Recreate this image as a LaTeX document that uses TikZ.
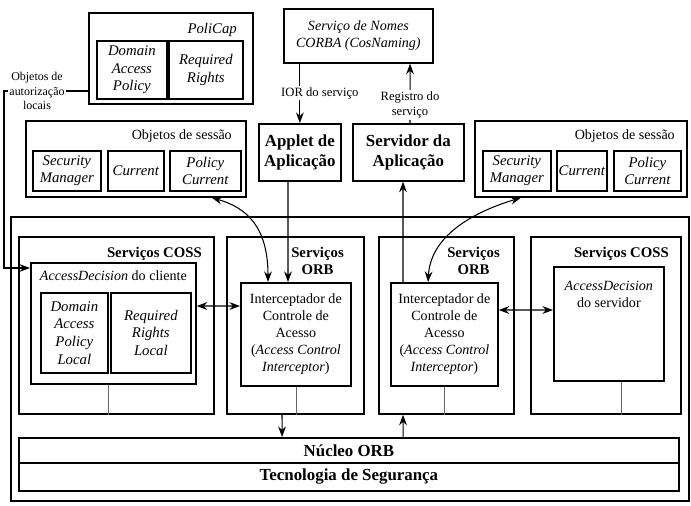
\documentclass[tikz,border=0pt]{standalone}
\usepackage{fontspec}
\setmainfont{Liberation Serif}
\usetikzlibrary{arrows.meta, positioning, calc}
\tikzstyle{caixa} = [rectangle, draw=black, line width=1.2pt, inner sep=0pt, anchor=north west, align=center, text centered]
\tikzstyle{interno} = [caixa, font=\itshape\fontsize{10.5}{12.5}\selectfont]
\tikzstyle{titulo} = [anchor=north east, align=center, font=\bfseries\fontsize{10.5}{12.5}\selectfont]
\tikzstyle{subtitulo} = [anchor=north east, font=\fontsize{10}{12}\selectfont]
\tikzstyle{rotulo} = [align=center, fill=white, inner sep=1pt, font=\fontsize{9}{11}\selectfont]
\tikzstyle{arrow} = [line width=0.75pt, ->, >={Stealth[length=7.5pt,width=5.5pt]}]
\tikzstyle{arrowdupla} = [arrow, <->]
\tikzstyle{fio} = [line width=0.4pt, black!60]

\begin{document}
\begin{tikzpicture}[x=0.025cm, y=-0.025cm, every node/.style={font=\fontsize{10}{12}\selectfont}]

    \useasboundingbox (0,0) rectangle (691,506);

    % Caixas de cima
    \node (policap) [caixa, minimum width=4.1cm, minimum height=2.275cm] at (88,12) {};
    \node (pdomain) [interno, minimum width=1.75cm, minimum height=1.45cm] at (96,40) {Domain\\Access\\Policy};
    \node (prights) [interno, minimum width=1.85cm, minimum height=1.45cm] at (168,40) {Required\\Rights};
    \node [titulo, font=\itshape\fontsize{10.5}{12.5}\selectfont] at ([xshift=-0.3cm, yshift=-0.15cm]policap.north east) {PoliCap};

    \node (nomes) [caixa, minimum width=3.725cm, minimum height=1.35cm, font=\itshape] at (283,8) {Serviço de Nomes\\CORBA (CosNaming)};

    \node (objaut) [rotulo, font=\fontsize{8.5}{10.2}\selectfont] at (37,91) {Objetos de\\autorização\\locais};
    \coordinate (canto) at (4,91);

    \node (applet) [caixa, minimum width=2.05cm, minimum height=1.425cm, font=\bfseries\fontsize{12}{14}\selectfont] at (258,123) {Applet de\\Aplicação};
    \node (servidor) [caixa, minimum width=2.775cm, minimum height=1.425cm, font=\bfseries\fontsize{12}{14}\selectfont] at (352,123) {Servidor da\\Aplicação};

    % Objetos de sessao
    \node (sessao1) [caixa, minimum width=5.5cm, minimum height=1.9cm] at (25,120) {};
    \node [subtitulo] at ([xshift=-0.25cm, yshift=-0.12cm]sessao1.north east) {Objetos de sessão};
    \node (sm1) [interno, minimum width=1.7cm, minimum height=1cm] at (32,150) {Security\\Manager};
    \node (cur1) [interno, minimum width=1.4cm, minimum height=1cm] at (107,150) {Current};
    \node (pc1) [interno, minimum width=1.775cm, minimum height=1cm] at (169,150) {Policy\\Current};

    \node (sessao2) [caixa, minimum width=5.3cm, minimum height=1.9cm] at (474,120) {};
    \node [subtitulo] at ([xshift=-0.2cm, yshift=-0.12cm]sessao2.north east) {Objetos de sessão};
    \node (sm2) [interno, minimum width=1.7cm, minimum height=1cm] at (482,150) {Security\\Manager};
    \node (cur2) [interno, minimum width=1.25cm, minimum height=1cm] at (556,150) {Current};
    \node (pc2) [interno, minimum width=1.675cm, minimum height=1cm] at (613,150) {Policy\\Current};

    % Caixa de baixo
    \node (base) [caixa, minimum width=16.95cm, minimum height=7.1cm] at (10,216) {};

    \node (coss1) [caixa, minimum width=4.875cm, minimum height=4.425cm] at (18,236) {};
    \node [titulo] at ([xshift=-0.2cm, yshift=-0.15cm]coss1.north east) {Serviços COSS};
    \node (adcli) [caixa, minimum width=4.125cm, minimum height=3.025cm] at (30,262) {};
    \node [anchor=north] at ([yshift=-0.1cm]adcli.north) {\textit{AccessDecision} do cliente};
    \node (dom2) [interno, minimum width=1.675cm, minimum height=2cm] at (40,292) {Domain\\Access\\Policy\\Local};
    \node (req2) [interno, minimum width=2cm, minimum height=2cm] at (110,292) {Required\\Rights\\Local};

    \node (orb1) [caixa, minimum width=3.425cm, minimum height=4.425cm] at (226,236) {};
    \node [titulo] at ([xshift=-0.4cm, yshift=-0.15cm]orb1.north east) {Serviços\\ORB};
    \node (int1) [caixa, minimum width=2.75cm, minimum height=2.575cm] at (240,282) {Interceptador de\\Controle de\\Acesso\\(\textit{Access Control}\\\textit{Interceptor})};

    \node (orb2) [caixa, minimum width=3.375cm, minimum height=4.425cm] at (378,236) {};
    \node [titulo] at ([xshift=-0.25cm, yshift=-0.15cm]orb2.north east) {Serviços\\ORB};
    \node (int2) [caixa, minimum width=2.675cm, minimum height=2.575cm] at (390,282) {Interceptador de\\Controle de\\Acesso\\(\textit{Access Control}\\\textit{Interceptor})};

    \node (coss2) [caixa, minimum width=3.75cm, minimum height=4.425cm] at (530,236) {};
    \node [titulo] at ([xshift=-0.2cm, yshift=-0.15cm]coss2.north east) {Serviços COSS};
    \node (adsrv) [caixa, minimum width=2.75cm, minimum height=2.85cm] at (553,266) {};
    \node [anchor=north, align=center] at ([yshift=-0.25cm]adsrv.north) {\textit{AccessDecision}\\do servidor};

    \node (nucleo) [caixa, minimum width=16.5cm, minimum height=0.625cm, font=\bfseries\fontsize{12}{14}\selectfont] at (18,437) {Núcleo ORB};
    \node (tecno) [caixa, minimum width=16.5cm, minimum height=0.7cm, font=\bfseries\fontsize{12}{14}\selectfont] at (18,462) {Tecnologia de Segurança};

    % Ligacoes
    \draw [line width=0.75pt] (objaut.east) -- (objaut.east -| policap.west);
    \draw [arrow] (objaut.west) -- (canto) |- ([yshift=-0.15cm]adcli.north west);
    \draw [arrow] (nomes.south -| applet.north) -- node [rotulo, xshift=0.5cm] {IOR do serviço} (applet.north);
    \draw [arrow] ([xshift=1.45cm]servidor.north west) -- node [rotulo, pos=0.3] {Registro do\\serviço} ([xshift=3.175cm]nomes.south west);
    \draw [arrow] ([xshift=0.75cm]applet.south west) -- ([xshift=1.2cm]int1.north west);
    \draw [arrow] ([xshift=0.325cm]int2.north west) -- ([xshift=1.275cm]servidor.south west);
    \draw [arrowdupla] ([xshift=-0.875cm]sessao1.south east) .. controls +(35,10) and +(0,-55) .. ([xshift=0.7cm]int1.north west);
    \draw [arrowdupla] ([xshift=1.175cm]sessao2.south west) .. controls +(-40,12) and +(3,-50) .. ([xshift=0.95cm]int2.north west);
    \draw [arrowdupla] ([yshift=-1.1cm]adcli.north east) -- ([yshift=-0.6cm]int1.north west);
    \draw [arrowdupla] ([yshift=-0.7cm]int2.north east) -- ([yshift=-1.1cm]adsrv.north west);
    \draw [arrow] ([xshift=1.4cm]orb1.south west) -- ([xshift=6.6cm]nucleo.north west);
    \draw [arrow] ([xshift=9.625cm]nucleo.north west) -- ([xshift=0.625cm]orb2.south west);

    % Fios finos
    \draw [fio] ($(adcli.south)+(-5,0)$) -- ($(adcli.south |- coss1.south)+(-5,0)$);
    \draw [fio] (int1.south) -- (int1.south |- orb1.south);
    \draw [fio] (int2.south) -- (int2.south |- orb2.south);
    \draw [fio] ($(adsrv.south)+(12,0)$) -- ($(adsrv.south |- coss2.south)+(12,0)$);

\end{tikzpicture}
\end{document}
